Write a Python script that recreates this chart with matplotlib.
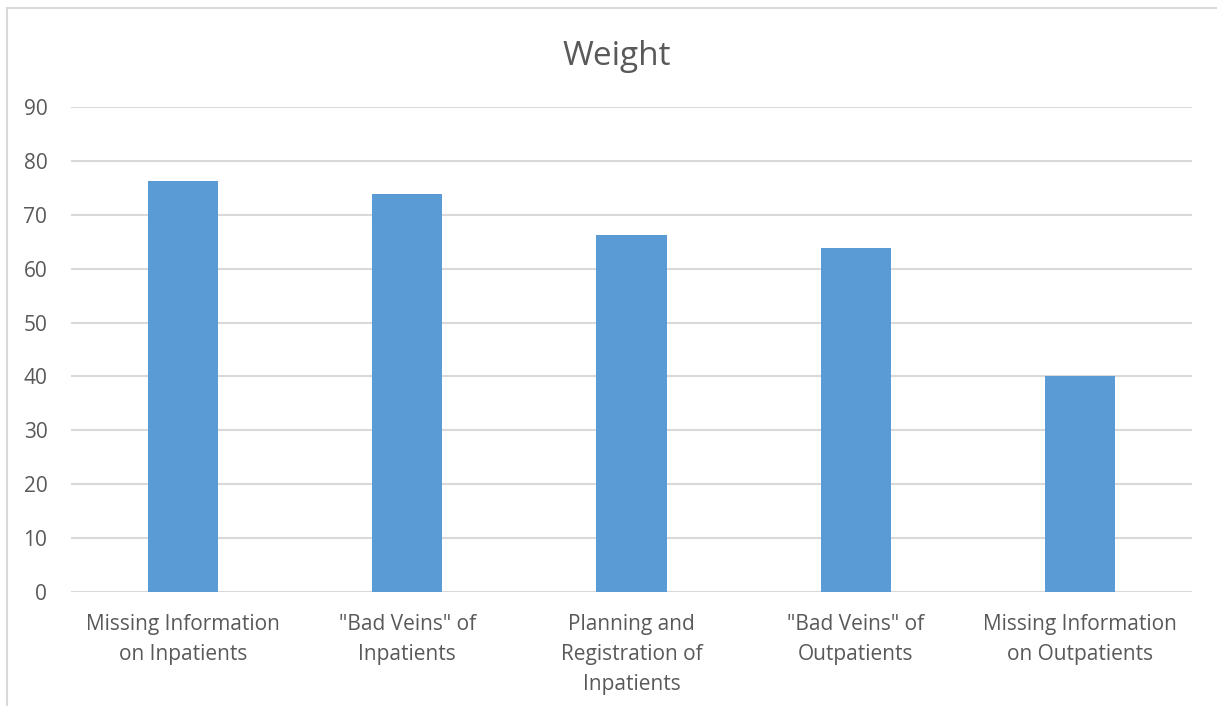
import matplotlib.pyplot as plt
from matplotlib.patches import Rectangle

plt.rcParams['font.family'] = ['Open Sans', 'DejaVu Sans']

# datos
categorias = ['Missing Information\non Inpatients', '"Bad Veins" of\nInpatients',
              'Planning and\nRegistration of\nInpatients', '"Bad Veins" of\nOutpatients',
              'Missing Information\non Outpatients']
pesos = [76.2, 73.8, 66.2, 63.8, 40.0]
yticks = [0, 10, 20, 30, 40, 50, 60, 70, 80, 90]

gris = '#595959'

fig = plt.figure(figsize=(12.17, 7.06), dpi=100)
ax = fig.add_axes([0.0583, 0.1615, 0.9212, 0.6869])

x = range(len(categorias))
ax.bar(x, pesos, width=0.313, color='#5b9bd5', zorder=3)

ax.set_xlim(-0.5, len(categorias) - 0.5)
ax.set_ylim(0, 90)
ax.set_yticks(yticks)
ax.set_xticks(list(x))
ax.set_xticklabels(categorias, fontsize=15, color=gris, linespacing=1.55, va='top')
ax.tick_params(axis='y', labelsize=15, labelcolor=gris, length=0, pad=17)
ax.tick_params(axis='x', length=0, pad=16)

ax.grid(axis='y', color='#d9d9d9', linewidth=1.5, zorder=0)
for s in ax.spines.values():
    s.set_visible(False)

fig.text(0.507, 0.92, 'Weight', ha='center', va='center', fontsize=24, color=gris)

# borde del area del grafico
fig.patches.append(Rectangle((7 / 1217, -0.05), 1.1, 1.05 - 8 / 706, transform=fig.transFigure,
                             fill=False, edgecolor='#d9d9d9', linewidth=1.5))

fig.savefig('out.png', dpi=100)
